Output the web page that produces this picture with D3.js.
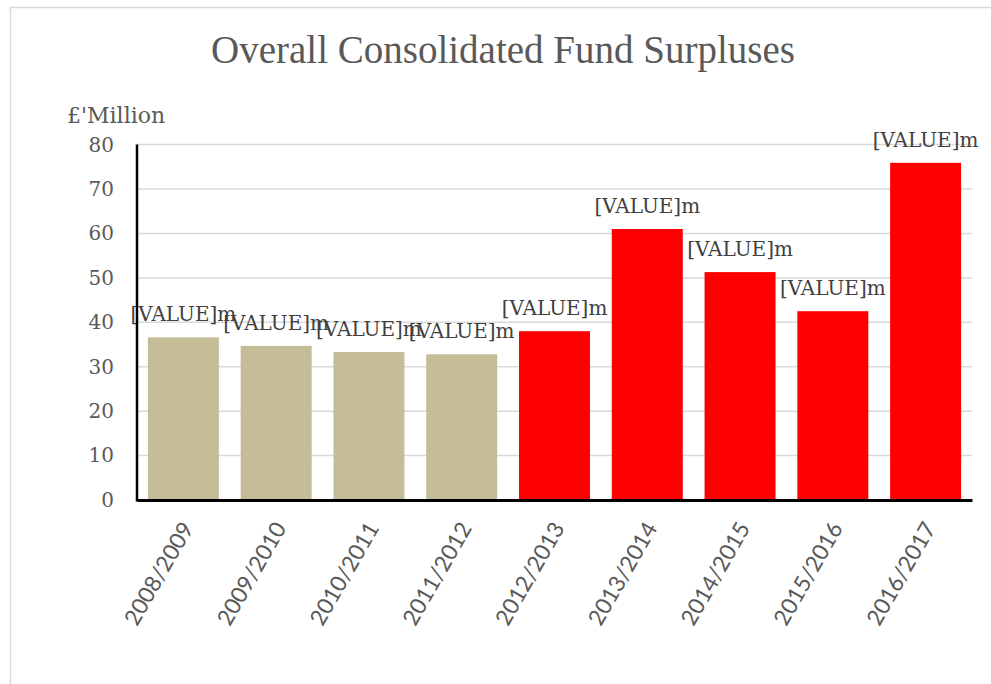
<!DOCTYPE html>
<html>
<head>
<meta charset="utf-8">
<script src="https://cdn.jsdelivr.net/npm/d3@7"></script>
<style>
  body { margin: 0; background: #fff; }
  svg { display: block; }
</style>
</head>
<body>
<div id="chart"></div>
<script>
// chart data
var years = ['2008/2009', '2009/2010', '2010/2011', '2011/2012', '2012/2013',
             '2013/2014', '2014/2015', '2015/2016', '2016/2017'];
var surpluses = [36.6, 34.7, 33.3, 32.8, 38.0, 61.0, 51.3, 42.5, 75.9];
// first four years in tan, the rest in red
var groups = ['old', 'old', 'old', 'old', 'new', 'new', 'new', 'new', 'new'];
var yTicks = [0, 10, 20, 30, 40, 50, 60, 70, 80];
var labelText = '[VALUE]m';

var width = 991;
var height = 684;

var serif = '"DejaVu Serif", "Liberation Serif", serif';
var titleFont = '"Liberation Serif", "DejaVu Serif", serif';
var sans = 'Lato, "Open Sans", sans-serif';

var fillColor = d3.scaleOrdinal()
  .domain(['old', 'new'])
  .range(['#c4bd97', '#ff0000']);

var svg = d3.select('#chart')
  .append('svg')
  .attr('width', width)
  .attr('height', height);

// chart area frame
svg.append('rect')
  .attr('x', 10.5)
  .attr('y', 7.5)
  .attr('width', 990)
  .attr('height', 700)
  .attr('fill', '#fff')
  .attr('stroke', '#d9d9d9')
  .attr('stroke-width', 1.5);

var x = d3.scaleBand()
  .domain(years)
  .range([137, 972])
  .paddingInner(0.235)
  .paddingOuter(0.1175);

var y = d3.scaleLinear()
  .domain([0, 80])
  .range([500, 144.6]);

// gridlines
svg.append('g')
  .selectAll('line')
  .data(yTicks.slice(1))
  .enter().append('line')
  .attr('x1', 137)
  .attr('x2', 972)
  .attr('y1', function (d) { return y(d); })
  .attr('y2', function (d) { return y(d); })
  .attr('stroke', '#d9d9d9')
  .attr('stroke-width', 1.5);

// y axis tick labels
var yAxis = svg.append('g')
  .attr('transform', 'translate(137,0)')
  .call(d3.axisLeft(y).tickValues(yTicks).tickSize(0).tickPadding(23));
yAxis.select('.domain').remove();
yAxis.selectAll('text')
  .attr('fill', '#595959')
  .style('font-family', serif)
  .style('font-size', '20px');

// bars
svg.append('g')
  .selectAll('rect')
  .data(surpluses)
  .enter().append('rect')
  .attr('x', function (d, i) { return x(years[i]); })
  .attr('y', function (d) { return y(d); })
  .attr('width', x.bandwidth())
  .attr('height', function (d) { return y(0) - y(d); })
  .attr('fill', function (d, i) { return fillColor(groups[i]); });

// data labels (the source shows the literal placeholder text)
svg.append('g')
  .selectAll('text')
  .data(surpluses)
  .enter().append('text')
  .attr('x', function (d, i) { return x(years[i]) + x.bandwidth() / 2; })
  .attr('y', function (d) { return y(d) - 16; })
  .attr('text-anchor', 'middle')
  .attr('fill', '#404040')
  .style('font-family', serif)
  .style('font-size', '20px')
  .text(labelText);

// axis lines
svg.append('line')
  .attr('x1', 137).attr('x2', 137)
  .attr('y1', 144.6).attr('y2', 501.5)
  .attr('stroke', '#000')
  .attr('stroke-width', 2.5);

var xAxis = svg.append('g')
  .attr('transform', 'translate(0,500)')
  .call(d3.axisBottom(x).tickSize(0).tickPadding(0));
xAxis.select('.domain')
  .attr('stroke', '#000')
  .attr('stroke-width', 3);
xAxis.selectAll('text')
  .attr('fill', '#595959')
  .attr('text-anchor', 'end')
  .attr('dy', '0.35em')
  .attr('y', 0)
  .attr('transform', 'translate(4,24) rotate(-60)')
  .style('font-family', sans)
  .style('font-size', '22.5px');

// unit label
svg.append('text')
  .attr('x', 67)
  .attr('y', 123)
  .attr('fill', '#595959')
  .style('font-family', serif)
  .style('font-size', '22px')
  .text("£'Million");

// title
svg.append('text')
  .attr('x', 503)
  .attr('y', 63)
  .attr('text-anchor', 'middle')
  .attr('fill', '#595959')
  .style('font-family', titleFont)
  .style('font-size', '39px')
  .text('Overall Consolidated Fund Surpluses');
</script>
</body>
</html>
